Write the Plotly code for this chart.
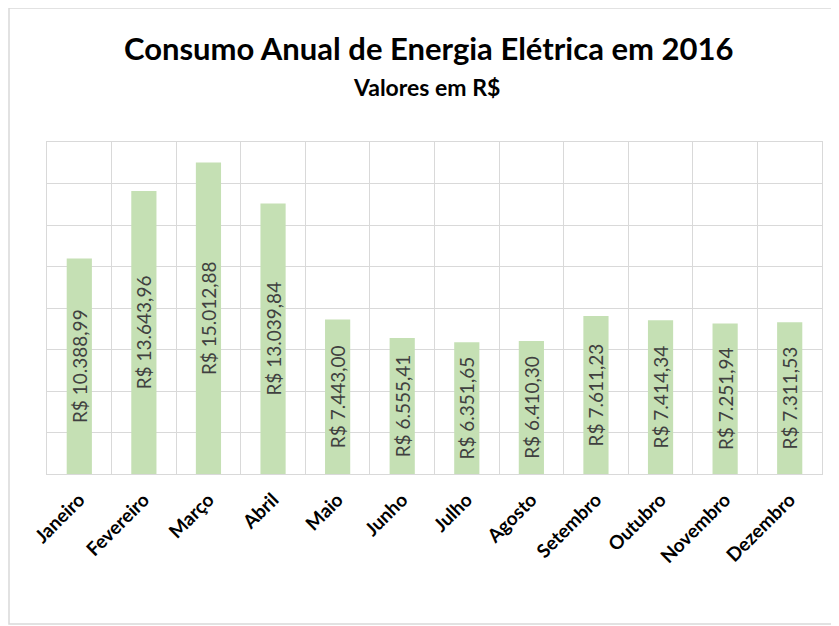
import plotly.graph_objects as go

meses = ["Janeiro", "Fevereiro", "Março", "Abril", "Maio", "Junho", "Julho",
         "Agosto", "Setembro", "Outubro", "Novembro", "Dezembro"]
valores = [10388.99, 13643.96, 15012.88, 13039.84, 7443.00, 6555.41, 6351.65,
           6410.30, 7611.23, 7414.34, 7251.94, 7311.53]

titulo = "Consumo Anual de Energia Elétrica em 2016"
subtitulo = "Valores em R$"


def brl(v):
    s = f"{v:,.2f}"
    s = s.replace(",", "X").replace(".", ",").replace("X", ".")
    return "R$ " + s


rotulos = [brl(v) for v in valores]

OFF = 8  # page body margin
W, H = 839 - OFF, 626 - OFF
L, R, T, B = 47 - OFF, 822 - OFF, 142 - OFF, 474 - OFF
pw, ph = R - L, B - T


def px(x):
    return (x - OFF - L) / pw


def py(y):
    return (B - (y - OFF)) / ph


fig = go.Figure(go.Bar(
    x=meses, y=valores,
    marker=dict(color="#c5e0b4", line=dict(width=0)),
    text=rotulos, textposition="inside", textangle=-90,
    insidetextanchor="middle", constraintext="none",
    textfont=dict(family="Lato, sans-serif", size=19, color="#404040"),
    hoverinfo="x+y",
))

grid = "#d9d9d9"
fig.update_layout(
    width=W, height=H,
    margin=dict(l=L, r=W - R, t=T, b=H - B),
    paper_bgcolor="white", plot_bgcolor="white",
    bargap=0.61, showlegend=False,
    font=dict(family="Lato, sans-serif", color="#000000"),
    xaxis=dict(
        tickson="boundaries", showgrid=True, gridcolor=grid, gridwidth=1.3,
        ticks="", tickangle=-45, ticklabelstandoff=6,
        tickfont=dict(family="Lato, sans-serif", size=19, color="#000000", weight="bold"),
        showline=True, linecolor=grid, linewidth=1.3, mirror=True,
        zeroline=False,
    ),
    yaxis=dict(
        range=[0, 16000], dtick=2000, showgrid=True, gridcolor=grid, gridwidth=1.3,
        showticklabels=False, ticks="", zeroline=False,
        showline=True, linecolor=grid, linewidth=1.3, mirror=True,
    ),
    shapes=[dict(
        type="rect", xref="paper", yref="paper",
        x0=px(9), x1=px(848), y0=py(624), y1=py(8),
        line=dict(color="#d9d9d9", width=1.5), fillcolor="rgba(0,0,0,0)", layer="below",
    )],
    annotations=[
        dict(text=f"<b>{titulo}</b>", xref="paper", yref="paper",
             x=px(428), y=py(48), xanchor="center", yanchor="middle", showarrow=False,
             font=dict(family="Lato, sans-serif", size=31, color="#000000")),
        dict(text=f"<b>{subtitulo}</b>", xref="paper", yref="paper",
             x=px(426), y=py(87), xanchor="center", yanchor="middle", showarrow=False,
             font=dict(family="Lato, sans-serif", size=23, color="#000000")),
    ],
)

fig.write_html("out.html")
